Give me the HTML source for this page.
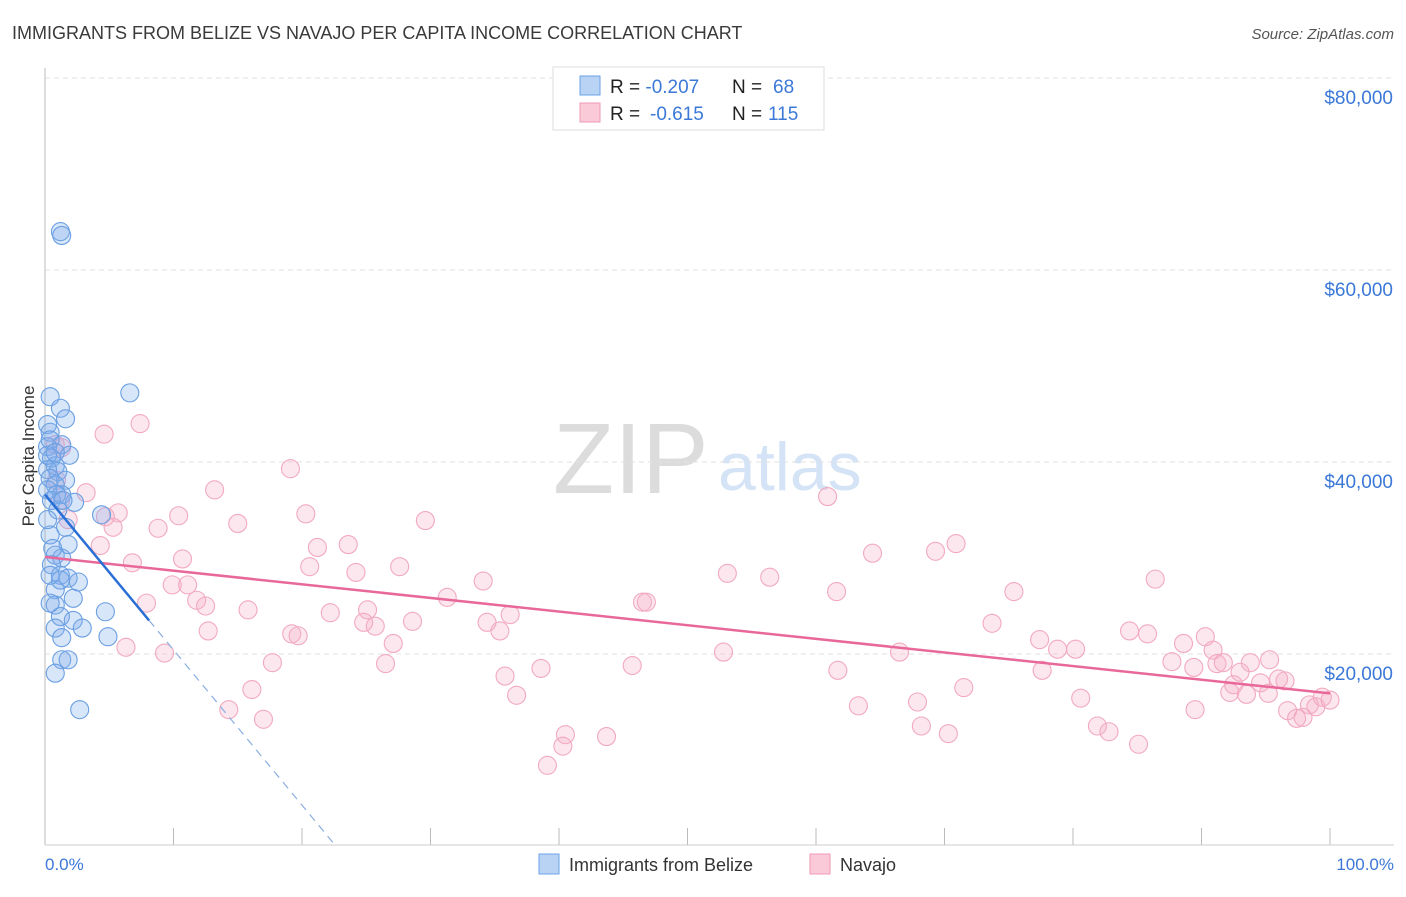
<!DOCTYPE html>
<html><head><meta charset="utf-8"><style>
body{margin:0;background:#fff;font-family:"Liberation Sans",sans-serif;}
svg text{font-family:"Liberation Sans",sans-serif;}
</style></head><body>
<svg width="1406" height="892" viewBox="0 0 1406 892" xmlns="http://www.w3.org/2000/svg">
<text x="12" y="39" font-size="18" fill="#3a3a3a">IMMIGRANTS FROM BELIZE VS NAVAJO PER CAPITA INCOME CORRELATION CHART</text>
<text x="1394" y="39" font-size="15" fill="#555" text-anchor="end" font-style="italic">Source: ZipAtlas.com</text>
<text x="553" y="493" font-size="100" fill="#dcdcdc" font-family="Liberation Serif">ZIP</text>
<text x="718" y="490" font-size="68" fill="#d4e3f5">atlas</text>
<g id="grid"></g>
<line x1="45" y1="68" x2="45" y2="845" stroke="#bbb"/>
<line x1="45" y1="845" x2="1394" y2="845" stroke="#ccc"/>
<text transform="translate(34,456) rotate(-90)" font-size="17" fill="#333" text-anchor="middle">Per Capita Income</text>
<text x="45" y="870" font-size="17" fill="#3b78d8">0.0%</text>
<text x="1394" y="870" font-size="17" fill="#3b78d8" text-anchor="end">100.0%</text>
<g id="pts"></g>
<g id="trend"></g>
<g>
<rect x="553" y="67" width="271" height="63" fill="#fff" stroke="#ddd"/>
<rect x="580" y="76" width="20" height="19" fill="#b9d3f5" stroke="#6aa1e6"/>
<rect x="580" y="103" width="20" height="19" fill="#fbcad8" stroke="#ef9ab4"/>
<text x="610" y="93" font-size="19" fill="#222">R = <tspan fill="#3b78d8">-0.207</tspan><tspan x="732">N = </tspan><tspan fill="#3b78d8" x="773">68</tspan></text>
<text x="610" y="120" font-size="19" fill="#222">R = <tspan fill="#3b78d8" x="650">-0.615</tspan><tspan x="732">N = </tspan><tspan fill="#3b78d8" x="768">115</tspan></text>
</g>
<g>
<rect x="539" y="854" width="20" height="20" fill="#b9d3f5" stroke="#6aa1e6"/>
<text x="569" y="871" font-size="18" fill="#333">Immigrants from Belize</text>
<rect x="810" y="854" width="20" height="20" fill="#fbcad8" stroke="#ef9ab4"/>
<text x="840" y="871" font-size="18" fill="#333">Navajo</text>
</g>
</svg>
<script>
const yTicks=[20000,40000,60000,80000];
const yTickLabels=["$20,000","$40,000","$60,000","$80,000"];
const xTicks=[0,10,20,30,40,50,60,70,80,90,100];
const belizeX=[1.2,1.3,0.4,6.6,1.2,1.6,0.2,0.4,0.2,1.3,1.9,0.5,0.8,0.2,1.0,0.4,1.6,0.8,0.2,1.3,2.3,4.4,1.6,0.4,1.8,0.8,1.3,0.5,1.2,1.8,2.6,0.8,2.2,0.8,0.4,1.2,2.2,2.9,0.8,1.3,4.9,4.7,1.3,1.8,0.8,2.7,0.4,0.5,1.0,0.2,0.6,1.2,0.4,0.9,1.4,0.2,0.8];
const belizeY=[64.0,63.6,46.8,47.2,45.6,44.5,43.9,43.1,41.6,41.8,40.7,40.4,39.6,39.2,39.0,38.3,38.1,37.6,37.1,36.6,35.8,34.5,33.2,32.4,31.4,30.3,30.0,29.3,28.2,27.9,27.5,26.7,25.8,25.1,25.3,23.9,23.5,22.7,22.7,21.7,21.8,24.4,19.4,19.4,18.0,14.2,42.3,36.0,35.0,34.0,31.0,27.7,28.2,36.6,36.0,40.7,41.0];
const navajoX=[7.4,4.6,0.8,1.3,0.9,3.2,13.2,19.1,1.2,5.7,4.7,10.4,15.0,20.3,29.6,1.8,5.3,8.8,4.3,21.2,10.7,23.6,6.8,20.6,27.6,24.2,34.1,9.9,11.1,31.3,11.8,12.5,7.9,15.8,22.2,25.1,36.2,24.8,25.7,28.6,34.4,35.4,12.7,19.2,19.7,27.1,6.3,9.3,17.7,26.5,35.8,38.6,45.7,36.7,16.1,14.3,17.0,40.5,40.3,43.7,39.1,46.5,46.8,53.1,56.4,60.9,61.6,64.4,69.3,70.9,75.4,86.4,52.8,61.7,66.5,63.3,67.9,68.2,71.5,70.3,73.7,77.6,78.8,80.2,80.6,81.9,82.8,84.4,85.8,85.1,87.7,88.6,89.4,90.3,90.9,91.2,91.7,92.2,93.5,93.8,92.5,94.6,95.2,96.5,96.0,96.7,97.4,97.9,98.9,99.4,100,98.4,77.4,89.5,93.0,95.3];
const navajoY=[44.0,42.9,41.8,41.5,38.1,36.8,37.1,39.3,36.0,34.7,34.3,34.4,33.6,34.6,33.9,34.0,33.2,33.1,31.3,31.1,29.9,31.4,29.5,29.1,29.1,28.5,27.6,27.2,27.2,25.9,25.6,25.0,25.3,24.6,24.3,24.6,24.1,23.3,22.9,23.4,23.3,22.4,22.4,22.1,21.9,21.1,20.7,20.1,19.1,19.0,17.7,18.5,18.8,15.7,16.3,14.2,13.2,11.6,10.4,11.4,8.4,25.4,25.4,28.4,28.0,36.4,26.5,30.5,30.7,31.5,26.5,27.8,20.2,18.3,20.2,14.6,15.0,12.5,16.5,11.7,23.2,18.3,20.5,20.5,15.4,12.5,11.9,22.4,22.1,10.6,19.2,21.1,18.6,21.8,20.4,19.0,19.1,16.0,15.8,19.1,16.8,17.0,15.9,17.2,17.4,14.1,13.3,13.4,14.5,15.5,15.2,14.7,21.5,14.2,18.1,19.4];
const navajoTrend=[30.1,15.9];
const belizeTrend=[36.6,23.5,8.1];
const NS="http://www.w3.org/2000/svg";
const xs=v=>45+v*12.85;
const ys=v=>846-v*0.0096;
const yk=v=>ys(v*1000);
function mk(tag,attrs,parent){const e=document.createElementNS(NS,tag);for(const k in attrs)e.setAttribute(k,attrs[k]);parent.appendChild(e);return e;}
const grid=document.getElementById('grid');
yTicks.forEach((t,i)=>{
 const l=mk('line',{x1:45,x2:1394,y1:ys(t),y2:ys(t),stroke:'#e2e2e2','stroke-dasharray':'5,4'},grid);
 
 
 const tx=mk('text',{x:1393,y:ys(t)+26,'font-size':19,fill:'#3b78d8','text-anchor':'end'},grid);
 tx.textContent=yTickLabels[i];
 
 
});
xTicks.forEach(t=>{
 const l=mk('line',{x1:xs(t),x2:xs(t),y1:828,y2:845,stroke:'#bbb'},grid);
 
 
});
const pts=document.getElementById('pts');
navajoX.forEach((x,i)=>{
 const c=mk('circle',{cx:xs(x),cy:yk(navajoY[i]),r:9,fill:'rgba(246,175,200,0.3)',stroke:'#f2a9c0','stroke-width':1.1},pts);
 
 
});
belizeX.forEach((x,i)=>{
 const c=mk('circle',{cx:xs(x),cy:yk(belizeY[i]),r:9,fill:'rgba(125,172,235,0.3)',stroke:'#6a9fe2','stroke-width':1.1},pts);
 
 
});
const tr=document.getElementById('trend');
const pl=mk('line',{x1:xs(0),y1:yk(navajoTrend[0]),x2:xs(100),y2:yk(navajoTrend[1]),stroke:'#e8689a','stroke-width':2.5},tr);


const slope=(belizeTrend[1]-belizeTrend[0])/belizeTrend[2];
const bl=mk('line',{x1:xs(0),y1:yk(belizeTrend[0]),x2:xs(belizeTrend[2]),y2:yk(belizeTrend[1]),stroke:'#2a6fd6','stroke-width':2.5},tr);


const x0=-belizeTrend[0]/slope;
const bd=mk('line',{x1:xs(belizeTrend[2]),y1:yk(belizeTrend[1]),x2:xs(x0),y2:yk(0),stroke:'#8aaee0','stroke-width':1.2,'stroke-dasharray':'8,6'},tr);


</script>
</body></html>
